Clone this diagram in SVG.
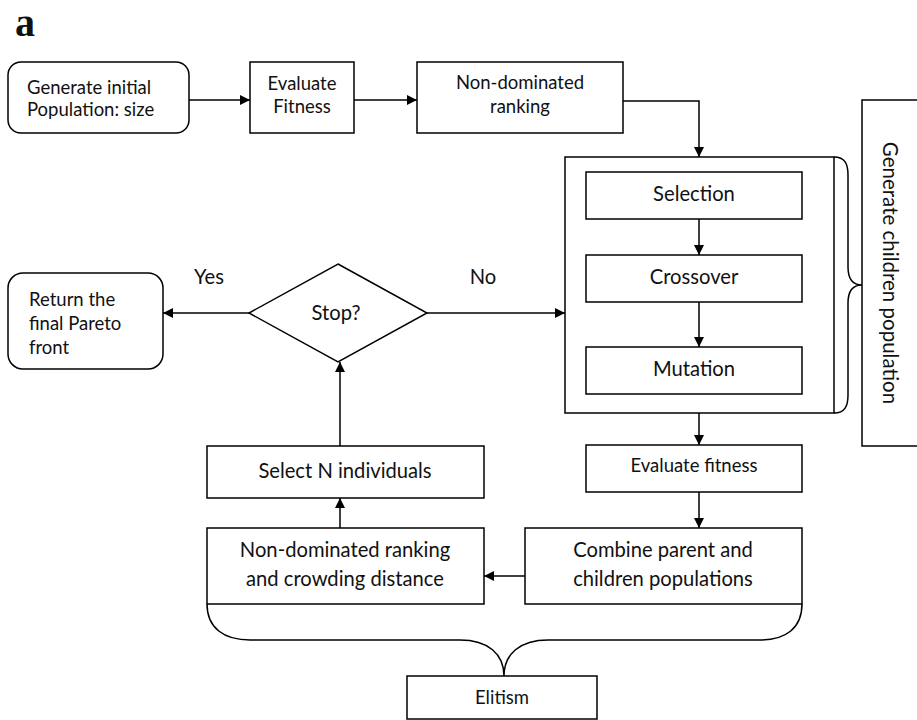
<svg xmlns="http://www.w3.org/2000/svg" width="917" height="720" viewBox="0 0 917 720">
<defs>
<marker id="ah" viewBox="0 0 10 10" refX="10" refY="5" markerWidth="10" markerHeight="10" markerUnits="userSpaceOnUse" orient="auto">
<path d="M0,0 L10,5 L0,10 Z" fill="#000"/>
</marker>
<style>
.box{fill:#fff;stroke:#000;stroke-width:1.5}
.ln{fill:none;stroke:#000;stroke-width:1.5}
.ar{fill:none;stroke:#000;stroke-width:1.5;marker-end:url(#ah)}
text{font-family:Lato,"Open Sans","Liberation Sans",sans-serif;fill:#111}
.c{text-anchor:middle}
.s18{font-size:18.5px}
.s20{font-size:20.2px}
</style>
</defs>
<rect width="917" height="720" fill="#fff"/>
<text x="15" y="36" style="font-family:'Liberation Serif',serif;font-weight:bold;font-size:40px">a</text>

<g id="n-gen">
<rect x="565" y="157" width="269" height="256" style="fill:none;stroke:#000;stroke-width:1.5"/>
</g>

<g id="connectors">
<path class="ar" d="M189,100 L250,100"/>
<path class="ar" d="M354,100 L417,100"/>
<path class="ar" d="M623,101 L699,101 L699,157"/>
<path class="ar" d="M699,219 L699,255"/>
<path class="ar" d="M699,302 L699,347"/>
<path class="ar" d="M699,413 L699,445"/>
<path class="ar" d="M699,492 L699,528"/>
<path class="ar" d="M525,576 L484,576"/>
<path class="ar" d="M340,528 L340,498"/>
<path class="ar" d="M340,446 L340,362"/>
<path class="ar" d="M249,313 L163,313"/>
<path class="ar" d="M427,313 L565,313"/>
<path class="ln" d="M834,157 C845,157 848,164 848,175 L848,267 C848,279 852,285 862,285 C852,285 848,291 848,303 L848,395 C848,406 845,413 834,413"/>
<path class="ln" d="M207,604 C207,628 224,640 250,640 L460,640 C488,640 504,654 504,676 C504,654 520,640 548,640 L760,640 C786,640 802,628 802,604"/>
</g>

<g id="n-init">
<rect class="box" x="8" y="62" width="181" height="71" rx="13"/>
<text class="s18" x="27" y="94">Generate initial</text>
<text class="s18" x="27" y="116">Population: size</text>
</g>
<g id="n-eval1">
<rect class="box" x="250" y="62" width="104" height="71"/>
<text class="s18 c" x="302" y="90">Evaluate</text>
<text class="s18 c" x="302" y="113">Fitness</text>
</g>
<g id="n-rank1">
<rect class="box" x="417" y="62" width="206" height="71"/>
<text class="s18 c" x="520" y="89">Non-dominated</text>
<text class="s18 c" x="520" y="113">ranking</text>
</g>
<g id="n-sel">
<rect class="box" x="586" y="172" width="216" height="47"/>
<text class="s20 c" x="694" y="201">Selection</text>
</g>
<g id="n-cross">
<rect class="box" x="586" y="255" width="216" height="47"/>
<text class="s20 c" x="694" y="284">Crossover</text>
</g>
<g id="n-mut">
<rect class="box" x="586" y="347" width="216" height="47"/>
<text class="s20 c" x="694" y="376">Mutation</text>
</g>
<g id="n-genlabel">
<path class="ln" d="M917,100 L862,100 L862,446 L917,446"/>
<text class="c" style="font-size:20.5px" transform="translate(883,273) rotate(90)" x="0" y="0">Generate children population</text>
</g>
<g id="n-eval2">
<rect class="box" x="586" y="445" width="216" height="47"/>
<text class="s18 c" x="694" y="472">Evaluate fitness</text>
</g>
<g id="n-comb">
<rect class="box" x="525" y="528" width="277" height="76"/>
<text class="s20 c" x="663" y="557">Combine parent and</text>
<text class="s20 c" x="663" y="586">children populations</text>
</g>
<g id="n-rank2">
<rect class="box" x="207" y="528" width="277" height="76"/>
<text class="s20 c" x="345" y="557">Non-dominated ranking</text>
<text class="s20 c" x="345" y="586">and crowding distance</text>
</g>
<g id="n-selN">
<rect class="box" x="207" y="446" width="277" height="52"/>
<text class="s20 c" x="345" y="478">Select N individuals</text>
</g>
<g id="n-stop">
<path class="box" d="M338,264 L427,313 L338,362 L249,313 Z"/>
<text class="s20 c" x="336" y="320">Stop?</text>
</g>
<g id="n-ret">
<rect class="box" x="8" y="273" width="155" height="96" rx="15"/>
<text class="s18" x="29" y="306">Return the</text>
<text class="s18" x="29" y="330">final Pareto</text>
<text class="s18" x="29" y="354">front</text>
</g>
<g id="n-elit">
<rect class="box" x="407" y="676" width="190" height="43"/>
<text class="s18 c" x="502" y="704">Elitism</text>
</g>
<g id="labels">
<text class="s20 c" x="209" y="284">Yes</text>
<text class="s20 c" x="483" y="284">No</text>
</g>
</svg>
